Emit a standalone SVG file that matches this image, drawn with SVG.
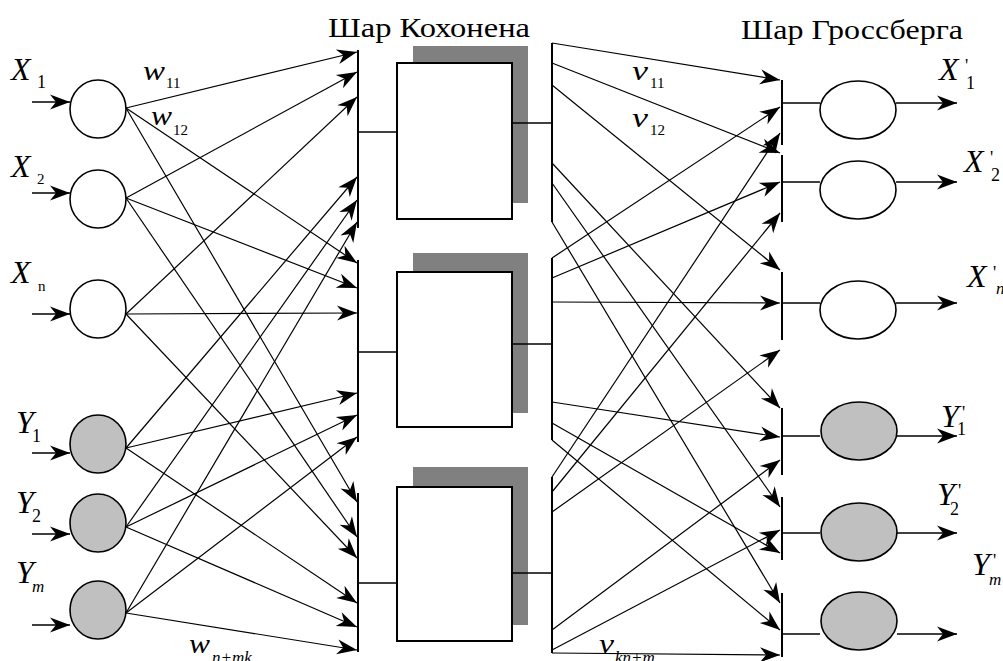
<svg xmlns="http://www.w3.org/2000/svg" width="1003" height="661" viewBox="0 0 1003 661">
  <defs>
    <marker id="arr" markerUnits="userSpaceOnUse" markerWidth="22" markerHeight="18" refX="20" refY="9" orient="auto" overflow="visible">
      <path d="M20,9 L0,1.5 L6,9 L0,16.5 Z" fill="#000"/>
    </marker>
    <style>
      .t { font-family: "Liberation Serif", "Times New Roman", serif; fill: #000; }
      .title { font-size: 28px; }
      .var { font-size: 32px; font-style: italic; }
      .wv { font-size: 28px; font-style: italic; }
      .sub { font-size: 18px; }
      .subs { font-size: 15px; }
      .subi { font-size: 17px; font-style: italic; }
      .pr { font-size: 18px; }
      .bus { stroke: #000; stroke-width: 2; fill: none; }
      .ln { stroke: #000; stroke-width: 1.5; fill: none; }
      .la { stroke: #000; stroke-width: 1.2; fill: none; marker-end: url(#arr); }
      .io { stroke: #000; stroke-width: 1.6; fill: none; marker-end: url(#arr); }
      .inX { fill: #fff; stroke: #000; stroke-width: 1.6; }
      .inY { fill: #c0c0c0; stroke: #000; stroke-width: 1.6; }
      .box { fill: #fff; stroke: #000; stroke-width: 2; }
      .shadow { fill: #808080; }
    </style>
  </defs>
  <rect width="1003" height="661" fill="#fff"/>

  <!-- layer titles -->
  <text class="t title" x="328" y="37" textLength="202" lengthAdjust="spacingAndGlyphs">Шар Кохонена</text>
  <text class="t title" x="741" y="39" textLength="222" lengthAdjust="spacingAndGlyphs">Шар Гроссберга</text>

  <!-- connectors: inputs to Kohonen layer -->
  <g id="connectors-in">
    <line class="la" x1="126" y1="108" x2="357" y2="52"/>
    <line class="la" x1="126" y1="108" x2="357" y2="263"/>
    <line class="la" x1="126" y1="108" x2="357" y2="502"/>
    <line class="la" x1="126" y1="198" x2="357" y2="72"/>
    <line class="la" x1="126" y1="198" x2="357" y2="288"/>
    <line class="la" x1="126" y1="198" x2="357" y2="537"/>
    <line class="la" x1="126" y1="314" x2="357" y2="97"/>
    <line class="la" x1="126" y1="314" x2="357" y2="313"/>
    <line class="la" x1="126" y1="314" x2="357" y2="558"/>
    <line class="la" x1="126" y1="448" x2="357" y2="177"/>
    <line class="la" x1="126" y1="448" x2="357" y2="393"/>
    <line class="la" x1="126" y1="448" x2="357" y2="603"/>
    <line class="la" x1="126" y1="527" x2="357" y2="200"/>
    <line class="la" x1="126" y1="527" x2="357" y2="415"/>
    <line class="la" x1="126" y1="527" x2="357" y2="627"/>
    <line class="la" x1="126" y1="613" x2="357" y2="222"/>
    <line class="la" x1="126" y1="613" x2="357" y2="437"/>
    <line class="la" x1="126" y1="613" x2="357" y2="650"/>
  </g>

  <!-- connectors: Kohonen layer to Grossberg layer -->
  <g id="connectors-out">
    <line class="la" x1="552" y1="43" x2="780" y2="80"/>
    <line class="la" x1="552" y1="63" x2="780" y2="153"/>
    <line class="la" x1="552" y1="85" x2="780" y2="270"/>
    <line class="la" x1="552" y1="163" x2="780" y2="408"/>
    <line class="la" x1="552" y1="183" x2="780" y2="507"/>
    <line class="la" x1="552" y1="222" x2="780" y2="603"/>
    <line class="la" x1="552" y1="258" x2="780" y2="107"/>
    <line class="la" x1="552" y1="278" x2="780" y2="182"/>
    <line class="la" x1="552" y1="302" x2="780" y2="303"/>
    <line class="la" x1="552" y1="402" x2="780" y2="437"/>
    <line class="la" x1="552" y1="423" x2="780" y2="553"/>
    <line class="la" x1="552" y1="440" x2="780" y2="630"/>
    <line class="la" x1="552" y1="477" x2="780" y2="133"/>
    <line class="la" x1="552" y1="492" x2="780" y2="213"/>
    <line class="la" x1="552" y1="512" x2="780" y2="350"/>
    <line class="la" x1="552" y1="630" x2="780" y2="460"/>
    <line class="la" x1="552" y1="650" x2="780" y2="530"/>
    <line class="la" x1="552" y1="653" x2="780" y2="655"/>
  </g>

  <!-- input neurons -->
  <g id="x1">
    <line class="io" x1="32" y1="102" x2="70" y2="102"/>
    <ellipse class="inX" cx="98" cy="109" rx="28" ry="29"/>
    <text class="t var" x="11" y="80">X</text>
    <text class="t sub" x="37" y="88">1</text>
  </g>
  <g id="x2">
    <line class="io" x1="32" y1="193" x2="70" y2="193"/>
    <ellipse class="inX" cx="98" cy="199" rx="28" ry="29"/>
    <text class="t var" x="11" y="177">X</text>
    <text class="t subs" x="37" y="184">2</text>
  </g>
  <g id="xn">
    <line class="io" x1="32" y1="314" x2="70" y2="314"/>
    <ellipse class="inX" cx="98" cy="309" rx="28" ry="29"/>
    <text class="t var" x="11" y="283">X</text>
    <text class="t subs" x="38" y="291">n</text>
  </g>
  <g id="y1">
    <line class="io" x1="32" y1="453" x2="70" y2="453"/>
    <ellipse class="inY" cx="98" cy="444" rx="28" ry="29"/>
    <text class="t var" x="16" y="433">Y</text>
    <text class="t sub" x="32" y="442">1</text>
  </g>
  <g id="y2">
    <line class="io" x1="32" y1="534" x2="70" y2="534"/>
    <ellipse class="inY" cx="98" cy="523" rx="28" ry="29"/>
    <text class="t var" x="16" y="513">Y</text>
    <text class="t sub" x="32" y="522">2</text>
  </g>
  <g id="ym">
    <line class="io" x1="32" y1="625" x2="70" y2="625"/>
    <ellipse class="inY" cx="98" cy="610" rx="28" ry="29"/>
    <text class="t var" x="16" y="583">Y</text>
    <text class="t subi" x="32" y="592">m</text>
  </g>

  <!-- weight labels -->
  <g id="weights">
    <text class="t wv" x="143" y="80" textLength="22" lengthAdjust="spacingAndGlyphs">w</text>
    <text class="t subs" x="166" y="88">11</text>
    <text class="t wv" x="151" y="125" textLength="21" lengthAdjust="spacingAndGlyphs">w</text>
    <text class="t subs" x="173" y="135">12</text>
    <text class="t wv" x="189" y="653" textLength="21" lengthAdjust="spacingAndGlyphs">w</text>
    <text class="t subi" x="212" y="663">n+mk</text>
    <text class="t wv" x="632" y="80" textLength="16" lengthAdjust="spacingAndGlyphs">v</text>
    <text class="t subs" x="650" y="88">11</text>
    <text class="t wv" x="632" y="127" textLength="16" lengthAdjust="spacingAndGlyphs">v</text>
    <text class="t subs" x="650" y="135">12</text>
    <text class="t wv" x="599" y="653" textLength="15" lengthAdjust="spacingAndGlyphs">v</text>
    <text class="t subi" x="615" y="663">kn+m</text>
  </g>

  <!-- Kohonen neurons -->
  <g id="k1">
    <line class="bus" x1="358" y1="50" x2="358" y2="228"/>
    <line class="bus" x1="552" y1="43" x2="552" y2="222"/>
    <rect class="shadow" x="413" y="46" width="115" height="157"/>
    <rect class="box" x="397" y="63" width="115" height="156"/>
    <line class="ln" x1="358" y1="132" x2="397" y2="132"/>
    <line class="ln" x1="512" y1="123" x2="552" y2="123"/>
  </g>
  <g id="k2">
    <line class="bus" x1="358" y1="260" x2="358" y2="442"/>
    <line class="bus" x1="552" y1="258" x2="552" y2="440"/>
    <rect class="shadow" x="413" y="253" width="115" height="160"/>
    <rect class="box" x="397" y="272" width="115" height="155"/>
    <line class="ln" x1="358" y1="352" x2="397" y2="352"/>
    <line class="ln" x1="512" y1="344" x2="552" y2="344"/>
  </g>
  <g id="k3">
    <line class="bus" x1="358" y1="493" x2="358" y2="652"/>
    <line class="bus" x1="552" y1="477" x2="552" y2="653"/>
    <rect class="shadow" x="413" y="467" width="115" height="158"/>
    <rect class="box" x="397" y="487" width="115" height="154"/>
    <line class="ln" x1="358" y1="583" x2="397" y2="583"/>
    <line class="ln" x1="512" y1="573" x2="552" y2="573"/>
  </g>

  <!-- Grossberg neurons -->
  <g id="g1">
    <line class="bus" x1="782" y1="80" x2="782" y2="145"/>
    <line class="ln" x1="782" y1="103" x2="820" y2="103"/>
    <ellipse class="inX" cx="858" cy="110" rx="38" ry="29"/>
    <line class="io" x1="896" y1="103" x2="957" y2="103"/>
    <text class="t var" x="939" y="80">X</text>
    <text class="t pr" x="965" y="72">'</text>
    <text class="t sub" x="966" y="89">1</text>
  </g>
  <g id="g2">
    <line class="bus" x1="782" y1="155" x2="782" y2="222"/>
    <line class="ln" x1="782" y1="182" x2="820" y2="182"/>
    <ellipse class="inX" cx="858" cy="190" rx="38" ry="29"/>
    <line class="io" x1="896" y1="182" x2="957" y2="182"/>
    <text class="t var" x="964" y="172">X</text>
    <text class="t pr" x="990" y="164">'</text>
    <text class="t sub" x="991" y="181">2</text>
  </g>
  <g id="g3">
    <line class="bus" x1="782" y1="272" x2="782" y2="340"/>
    <line class="ln" x1="782" y1="303" x2="820" y2="303"/>
    <ellipse class="inX" cx="858" cy="310" rx="38" ry="29"/>
    <line class="io" x1="896" y1="303" x2="957" y2="303"/>
    <text class="t var" x="967" y="287">X</text>
    <text class="t pr" x="993" y="279">'</text>
    <text class="t subi" x="996" y="294">n</text>
  </g>
  <g id="g4">
    <line class="bus" x1="782" y1="408" x2="782" y2="475"/>
    <line class="ln" x1="782" y1="436" x2="820" y2="436"/>
    <ellipse class="inY" cx="859" cy="431" rx="38" ry="29"/>
    <line class="io" x1="897" y1="436" x2="957" y2="436"/>
    <text class="t var" x="941" y="427">Y</text>
    <text class="t pr" x="962" y="419">'</text>
    <text class="t sub" x="957" y="435">1</text>
  </g>
  <g id="g5">
    <line class="bus" x1="782" y1="497" x2="782" y2="560"/>
    <line class="ln" x1="782" y1="533" x2="820" y2="533"/>
    <ellipse class="inY" cx="859" cy="532" rx="38" ry="29"/>
    <line class="io" x1="897" y1="533" x2="957" y2="533"/>
    <text class="t var" x="937" y="505">Y</text>
    <text class="t pr" x="958" y="497">'</text>
    <text class="t sub" x="950" y="515">2</text>
  </g>
  <g id="g6">
    <line class="bus" x1="782" y1="593" x2="782" y2="657"/>
    <line class="ln" x1="782" y1="634" x2="820" y2="634"/>
    <ellipse class="inY" cx="859" cy="621" rx="38" ry="29"/>
    <line class="io" x1="897" y1="634" x2="957" y2="634"/>
    <text class="t var" x="972" y="575">Y</text>
    <text class="t pr" x="993" y="567">'</text>
    <text class="t subi" x="989" y="585">m</text>
  </g>
</svg>
